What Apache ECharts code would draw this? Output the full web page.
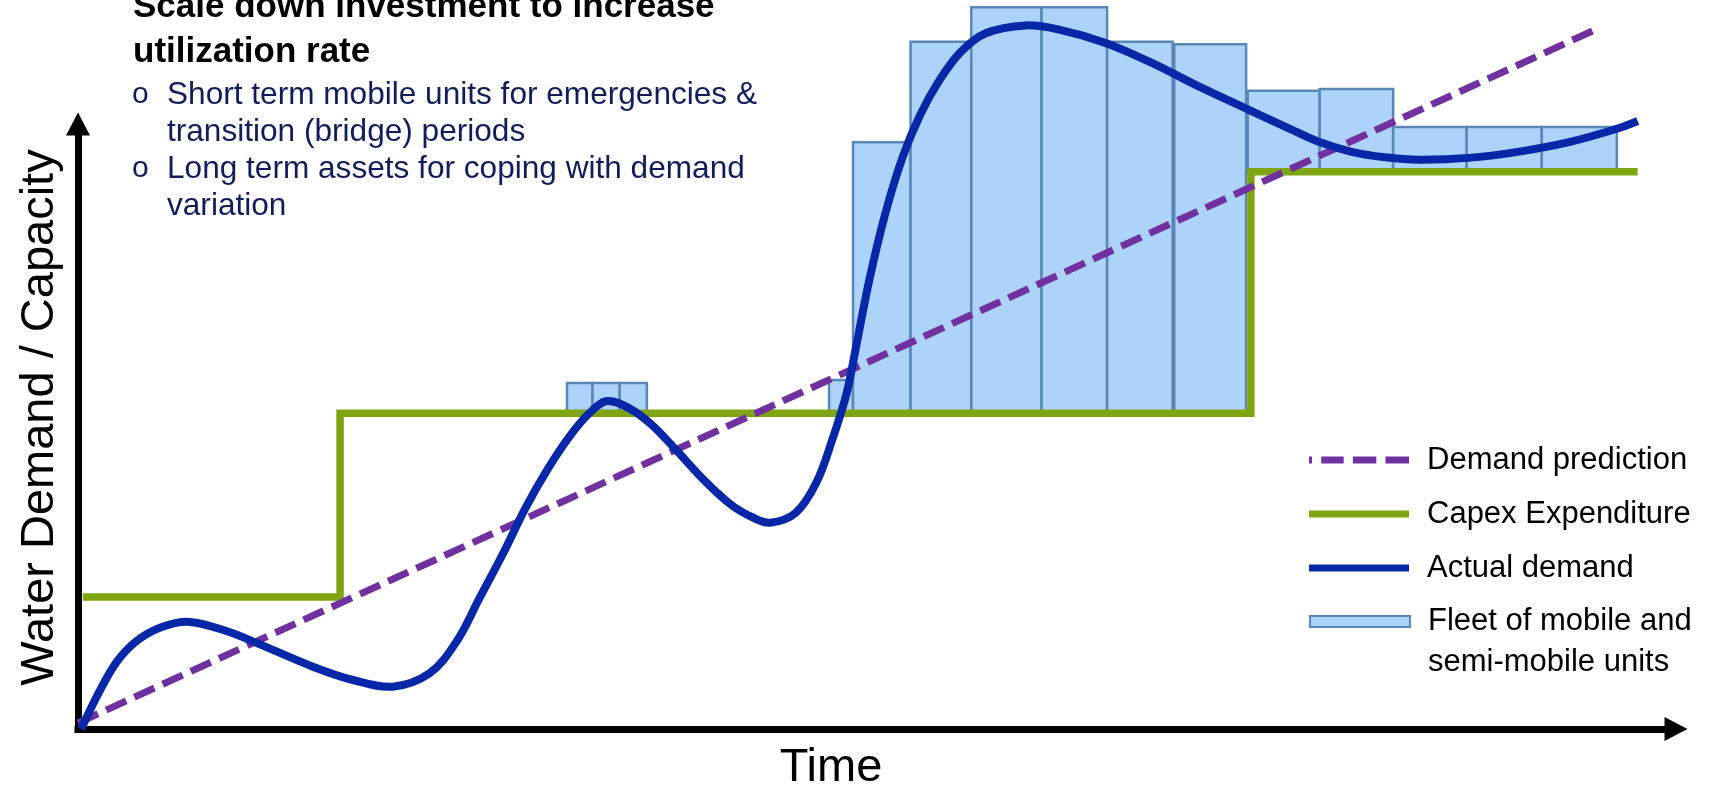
<!DOCTYPE html>
<html>
<head>
<meta charset="utf-8">
<script src="https://cdn.jsdelivr.net/npm/echarts@6/dist/echarts.min.js"></script>
<style>
  html, body { margin: 0; padding: 0; background: #ffffff; }
  #chart { width: 1716px; height: 786px; }
</style>
</head>
<body>
<div id="chart"></div>
<script>
// Time runs 0..100 along x, demand/capacity 0..100 along y (marks may rise above the arrow).

// Actual demand curve
const demandX = [0.2, 1.3, 2.4, 3.6, 5.2, 7.0, 9.5, 11.2, 14.7, 17.2, 19.7,
  22.0, 23.7, 25.1, 26.6, 28.0, 29.4, 30.8, 32.0, 33.1, 34.5,
  35.9, 37.4, 39.3, 40.9, 42.2, 43.3, 44.9, 46.2, 47.2, 48.1,
  48.7, 49.5, 50.5, 51.6, 52.7, 53.9, 55.2, 56.8, 59.3, 61.4,
  64.3, 67.2, 70.3, 73.3, 75.6, 77.6, 79.7, 81.8, 83.9, 87.0,
  90.1, 93.3, 96.4, 97.6];
const demandY = [0.0, 6.0, 11.0, 14.4, 16.8, 17.7, 16.0, 14.2, 10.3, 8.1, 7.0,
  9.2, 14.5, 21.5, 29.0, 36.5, 43.0, 48.5, 52.2, 54.2, 53.0,
  50.3, 46.2, 40.8, 37.0, 35.0, 34.1, 35.7, 40.7, 47.8, 55.5,
  63.3, 74.0, 85.0, 94.5, 101.5, 107.2, 111.8, 115.0, 116.3, 115.6,
  113.4, 110.1, 106.0, 102.3, 99.5, 97.1, 95.4, 94.5, 94.1, 94.4,
  95.4, 97.0, 99.3, 100.5];

// Demand prediction (straight trend)
const predX = [0, 94.8];
const predY = [1.0, 115.4];

// Capex expenditure: installed capacity steps up at these times
const capexX = [0.3, 16.4, 73.4, 97.6];
const capexY = [21.8, 52.2, 92.1, 92.1];

// Fleet of mobile and semi-mobile units stacked on top of installed capacity
const fleetStart = [30.6, 32.2, 33.9, 47.0, 48.5, 52.1, 55.9, 60.3, 64.4, 68.6, 73.2, 77.7, 82.3, 86.9, 91.6];
const fleetEnd   = [32.2, 33.9, 35.6, 48.5, 52.1, 55.9, 60.3, 64.4, 68.5, 73.1, 77.7, 82.3, 86.9, 91.6, 96.3];
const fleetTop   = [57.2, 57.2, 57.2, 57.7, 97.0, 113.6, 119.3, 119.3, 113.6, 113.2, 105.5, 105.8, 99.5, 99.5, 99.5];

const headingLines = ['Scale down investment to increase', 'utilization rate'];
const bulletLines = [
  ['Short term mobile units for emergencies &', 'transition (bridge) periods'],
  ['Long term assets for coping with demand', 'variation']
];

const FONT = '"Liberation Sans", Arial, Helvetica, sans-serif';
const C_BLUE = '#0628A8';
const C_GREEN = '#7FA512';
const C_PURPLE = '#7030A0';
const C_FLEET = '#AED3FA';
const C_FLEET_EDGE = '#5A87B6';
const C_TEXT = '#0F1E5A';

// Legend swatches: thick bar for solid lines, dashed bar for the trend
const ICON_SOLID = 'path://M0,0h100v7h-100z';
const ICON_DASH = 'path://M0,0h3v7h-3z M12,0h22v7h-22z M43,0h23v7h-23z M75,0h23v7h-23z';

function capexAt(x) {
  let v = capexY[0];
  for (let i = 0; i < capexX.length; i++) if (x >= capexX[i]) v = capexY[i];
  return v;
}

const demandData = demandX.map((x, i) => [x, demandY[i]]);
const predData = predX.map((x, i) => [x, predY[i]]);
const capexData = capexX.map((x, i) => [x, capexY[i]]);
const fleetData = fleetStart.map((s, i) => [s, fleetEnd[i], fleetTop[i], capexAt((s + fleetEnd[i]) / 2)]);

// Heading and bullet text block
const textEls = [];
headingLines.forEach((t, i) => {
  textEls.push({
    type: 'text', left: 133, top: -10 + i * 45,
    style: { text: t, font: 'bold 35px ' + FONT, fill: '#000000' }
  });
});
let lineIdx = 0;
const bulletBase = 95;
bulletLines.forEach((lines) => {
  textEls.push({
    type: 'text', x: 132, y: bulletBase + lineIdx * 37,
    style: { text: 'o', font: '30px ' + FONT, fill: C_TEXT, verticalAlign: 'middle' }
  });
  lines.forEach(t => {
    textEls.push({
      type: 'text', x: 167, y: bulletBase + lineIdx * 37,
      style: { text: t, font: '31.6px ' + FONT, fill: C_TEXT, verticalAlign: 'middle' }
    });
    lineIdx++;
  });
});

const chart = echarts.init(document.getElementById('chart'), null, { renderer: 'canvas' });
chart.setOption({
  animation: false,
  backgroundColor: '#ffffff',
  grid: { left: 78, right: 40, top: 124, bottom: 57, containLabel: false, outerBoundsMode: 'none' },
  xAxis: {
    type: 'value', min: 0, max: 100,
    name: 'Time', nameLocation: 'middle', nameGap: 16,
    nameTextStyle: { fontFamily: FONT, fontSize: 47, color: '#000000', padding: [0, 92, 0, 0] },
    axisLine: { show: true, onZero: false, symbol: ['none', 'triangle'], symbolSize: [24, 23],
      lineStyle: { color: '#000000', width: 7, cap: 'square' } },
    axisTick: { show: false }, axisLabel: { show: false }, splitLine: { show: false }
  },
  yAxis: {
    type: 'value', min: 0, max: 100,
    name: 'Water Demand / Capacity', nameLocation: 'middle', nameGap: 14,
    nameTextStyle: { fontFamily: FONT, fontSize: 47, color: '#000000', padding: [0, 0, 0, 18] },
    axisLine: { show: true, onZero: false, symbol: ['none', 'triangle'], symbolSize: [24, 23],
      lineStyle: { color: '#000000', width: 7, cap: 'square' } },
    axisTick: { show: false }, axisLabel: { show: false }, splitLine: { show: false }
  },
  legend: [
    {
      orient: 'vertical', left: 1309, top: 440, padding: 0,
      itemWidth: 100, itemHeight: 11, itemGap: 14,
      data: [
        { name: 'Demand prediction', icon: ICON_DASH, itemStyle: { color: C_PURPLE, borderWidth: 0 } },
        { name: 'Capex Expenditure', icon: ICON_SOLID, itemStyle: { color: C_GREEN, borderWidth: 0 } },
        { name: 'Actual demand', icon: ICON_SOLID, itemStyle: { color: C_BLUE, borderWidth: 0 } }
      ],
      textStyle: { fontFamily: FONT, fontSize: 31, color: '#000000', lineHeight: 40, padding: [0, 0, 0, 13] }
    },
    {
      // leading blank line keeps the swatch level with the first line of the label
      orient: 'vertical', left: 1309, top: 560, padding: 0,
      itemWidth: 100, itemHeight: 11,
      data: [{ name: 'Fleet of mobile and\nsemi-mobile units', icon: 'rect' }],
      formatter: function (name) { return '\n' + name; },
      textStyle: { fontFamily: FONT, fontSize: 31, color: '#000000', lineHeight: 41, padding: [0, 0, 0, 13] }
    }
  ],
  graphic: textEls,
  series: [
    {
      name: 'Fleet of mobile and\nsemi-mobile units',
      type: 'custom', clip: false, z: 1,
      itemStyle: { color: C_FLEET, borderColor: C_FLEET_EDGE, borderWidth: 2.5 },
      encode: { x: [0, 1], y: [2, 3] },
      data: fleetData,
      renderItem: function (params, api) {
        const tl = api.coord([api.value(0), api.value(2)]);
        const br = api.coord([api.value(1), api.value(3)]);
        return {
          type: 'rect',
          shape: { x: tl[0], y: tl[1], width: br[0] - tl[0], height: br[1] - tl[1] },
          style: { fill: C_FLEET, stroke: C_FLEET_EDGE, lineWidth: 2.5 }
        };
      }
    },
    {
      name: 'Capex Expenditure', type: 'line', step: 'end', clip: false, z: 3,
      symbol: 'none', data: capexData,
      lineStyle: { color: C_GREEN, width: 7.5, cap: 'butt', join: 'miter' },
      itemStyle: { color: C_GREEN }
    },
    {
      name: 'Demand prediction', type: 'line', clip: false, z: 4,
      symbol: 'none', data: predData,
      lineStyle: { color: C_PURPLE, width: 7, type: [22, 9], cap: 'butt' },
      itemStyle: { color: C_PURPLE }
    },
    {
      // one spline through all demand readings, placed with the axis scales
      name: 'Actual demand', type: 'custom', clip: false, z: 5,
      itemStyle: { color: C_BLUE },
      encode: { x: 0, y: 1 },
      data: demandData,
      renderItem: function (params, api) {
        if (params.dataIndex !== 0) return null;
        const pts = demandData.map(d => api.coord(d));
        return {
          type: 'polyline',
          shape: { points: pts, smooth: 0.35 },
          style: { stroke: C_BLUE, lineWidth: 8, fill: null, lineJoin: 'round', lineCap: 'butt' }
        };
      }
    }
  ]
});
</script>
</body>
</html>
